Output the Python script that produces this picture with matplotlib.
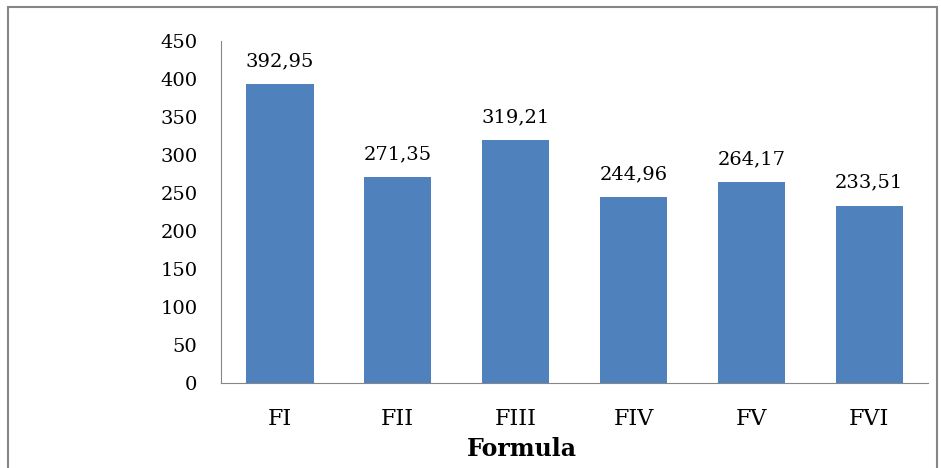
import matplotlib
matplotlib.use("Agg")
import matplotlib.pyplot as plt
from matplotlib.patches import Rectangle

# Data
formulas = ['FI', 'FII', 'FIII', 'FIV', 'FV', 'FVI']
values = [392.95, 271.35, 319.21, 244.96, 264.17, 233.51]
yticks = [0, 50, 100, 150, 200, 250, 300, 350, 400, 450]

plt.rcParams['font.family'] = ['DejaVu Serif']

fig = plt.figure(figsize=(9.41, 4.68), dpi=100)
ax = fig.add_axes([0.2349, 0.1816, 0.7513, 0.7308])

# outer chart border
fig.patches.append(Rectangle((8 / 941, -0.05), 929 / 941, 1.05 - 7 / 468,
                             transform=fig.transFigure, fill=False,
                             edgecolor='#868686', linewidth=1.5))

bars = ax.bar(formulas, values, width=0.57, color='#4F81BD')
for b, v in zip(bars, values):
    ax.text(b.get_x() + b.get_width() / 2, v + 18, f"{v:.2f}".replace('.', ','),
            ha='center', va='bottom', fontsize=14)

ax.set_ylim(0, 450)
ax.set_xlim(-0.5, 5.5)
ax.set_yticks(yticks)
ax.tick_params(axis='both', length=0)
ax.tick_params(axis='y', pad=17, labelsize=14)
ax.tick_params(axis='x', pad=18, labelsize=16)
ax.set_xlabel('Formula', fontsize=17, fontweight='bold')
ax.xaxis.set_label_coords(0.426, -0.158)

for s in ['top', 'right']:
    ax.spines[s].set_visible(False)
ax.spines['left'].set_color('#868686')
ax.spines['bottom'].set_color('#868686')

plt.savefig('out.png', dpi=100)
